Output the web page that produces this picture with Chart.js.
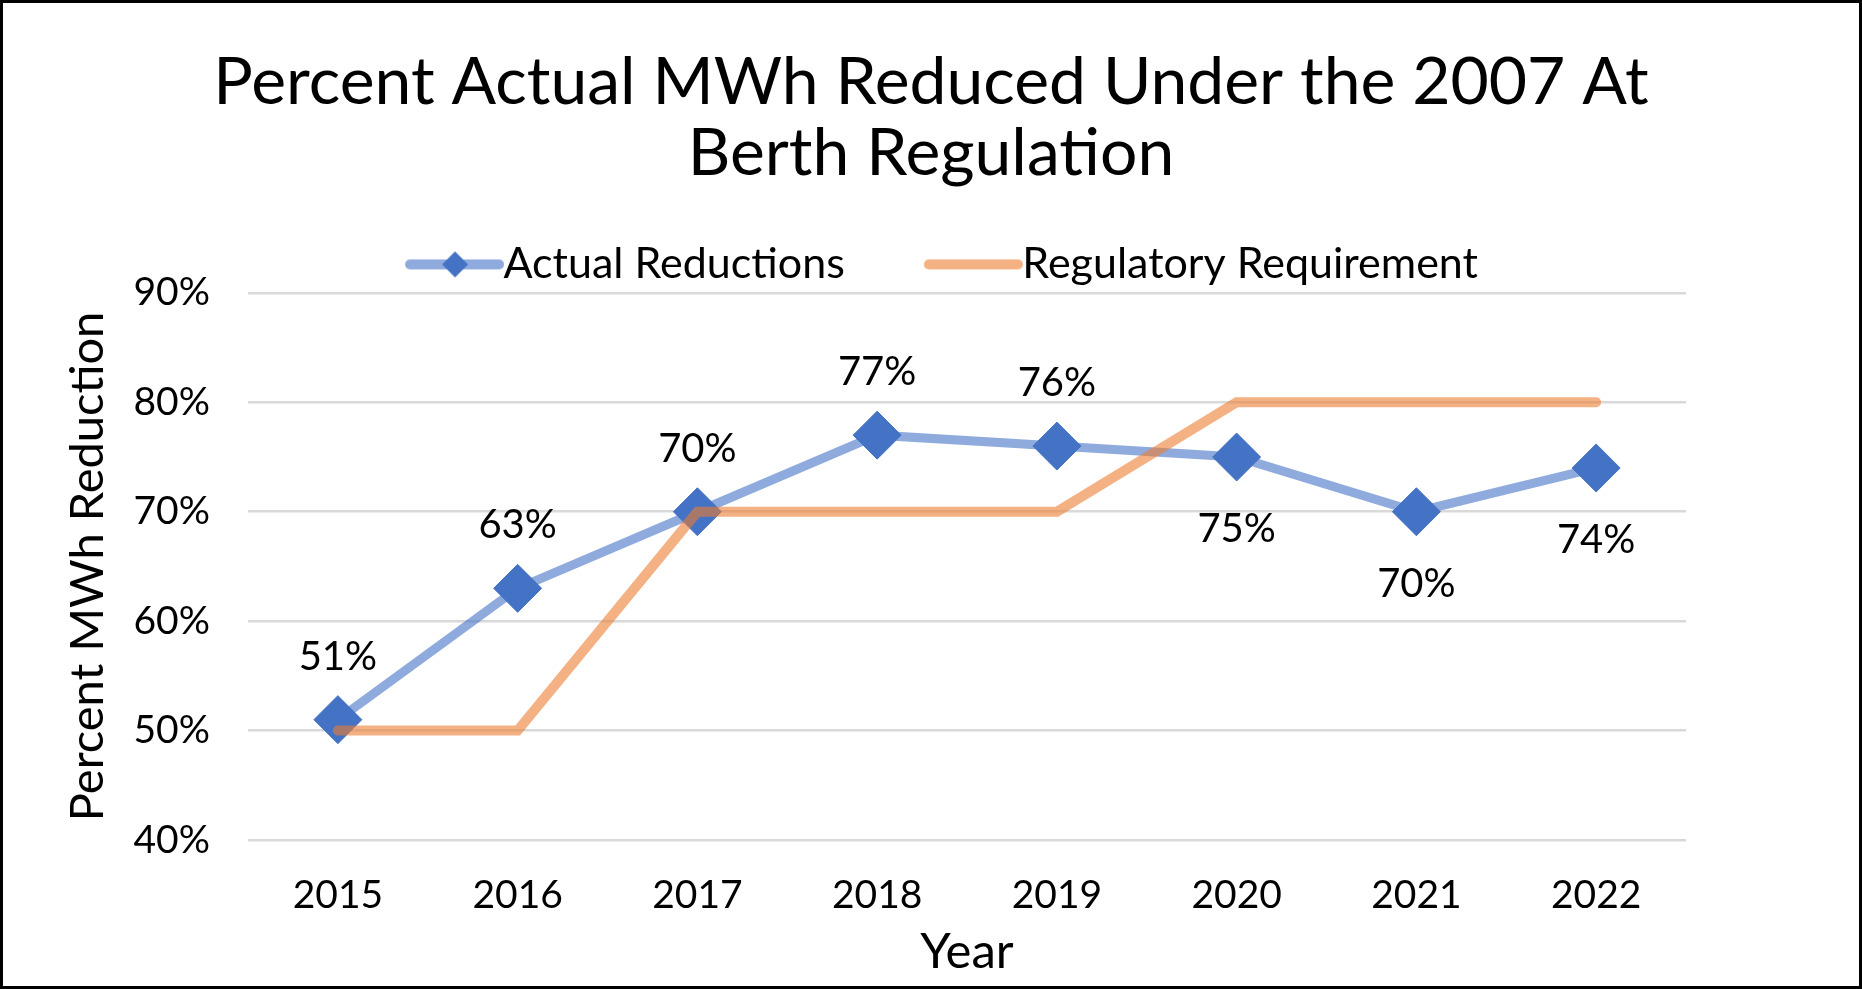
<!DOCTYPE html>
<html>
<head>
<meta charset="utf-8">
<script src="https://cdn.jsdelivr.net/npm/chart.js@4.4.1/dist/chart.umd.min.js"></script>
<style>
  body { margin: 0; background: #fff; }
  .frame { width: 1862px; height: 989px; box-sizing: border-box; border: 3px solid #000; }
  canvas { display: block; }
</style>
</head>
<body>
<div class="frame"><canvas id="chart" width="1856" height="983"></canvas></div>
<script>
const years = ['2015', '2016', '2017', '2018', '2019', '2020', '2021', '2022']
const actual = [51, 63, 70, 77, 76, 75, 70, 74]
const requirement = [50, 50, 70, 70, 70, 80, 80, 80]
const labelSide = ['above', 'above', 'above', 'above', 'above', 'below', 'below', 'below']

const FONT = 'Lato'
const blue = '#4472C4'
const blueLine = 'rgba(68, 114, 196, 0.6)'
const orangeLine = 'rgba(237, 125, 49, 0.6)'

// legend swatches: line (+ diamond) drawn into a small canvas
function swatch(color, marker) {
    const c = document.createElement('canvas')
    c.width = 142
    c.height = 30
    const g = c.getContext('2d')
    g.strokeStyle = color
    g.lineWidth = 10
    g.lineCap = 'round'
    g.beginPath()
    g.moveTo(48, 15)
    g.lineTo(137, 15)
    g.stroke()
    if (marker) {
        g.fillStyle = blue
        g.beginPath()
        g.moveTo(93, 2)
        g.lineTo(106, 15)
        g.lineTo(93, 28)
        g.lineTo(80, 15)
        g.closePath()
        g.fill()
    }
    return c
}

const valueLabels = {
    id: 'valueLabels',
    afterDatasetsDraw(chart) {
        const meta = chart.getDatasetMeta(0)
        const ctx = chart.ctx
        ctx.save()
        ctx.font = '40px ' + FONT
        ctx.fillStyle = '#000'
        ctx.textAlign = 'center'
        ctx.textBaseline = 'middle'
        meta.data.forEach((pt, i) => {
            const dy = labelSide[i] === 'below' ? 72 : -63
            ctx.fillText(actual[i] + '%', pt.x, pt.y + dy)
        })
        ctx.restore()
    }
}

new Chart(document.getElementById('chart'), {
    type: 'line',
    data: {
        labels: years,
        datasets: [{
            label: 'Actual Reductions',
            data: actual,
            borderColor: blueLine,
            borderWidth: 9,
            pointStyle: 'rectRot',
            pointRadius: 24,
            pointHoverRadius: 24,
            pointBackgroundColor: blue,
            pointBorderColor: blue,
            pointBorderWidth: 1,
            order: 2
        }, {
            label: 'Regulatory Requirement',
            data: requirement,
            borderColor: orangeLine,
            borderWidth: 10,
            borderCapStyle: 'round',
            pointRadius: 0,
            pointHoverRadius: 0,
            order: 1
        }]
    },
    options: {
        responsive: false,
        animation: false,
        events: [],
        layout: { padding: 0 },
        plugins: {
            title: {
                display: true,
                text: ['Percent Actual MWh Reduced Under the 2007 At', 'Berth Regulation'],
                color: '#000',
                font: { family: FONT, size: 66, weight: 'normal', lineHeight: 1.075 },
                padding: { top: 44, bottom: -4 }
            },
            legend: {
                maxHeight: 108,
                labels: {
                    color: '#000',
                    font: { family: FONT, size: 43 },
                    usePointStyle: true,
                    pointStyleWidth: 98,
                    padding: 58,
                    generateLabels: () => [
                        { text: 'Actual Reductions', pointStyle: swatch(blueLine, true), fillStyle: blue, strokeStyle: blue, lineWidth: 0, datasetIndex: 0 },
                        { text: 'Regulatory Requirement', pointStyle: swatch(orangeLine, false), fillStyle: orangeLine, strokeStyle: orangeLine, lineWidth: 0, datasetIndex: 1 }
                    ]
                }
            },
            tooltip: { enabled: false }
        },
        scales: {
            x: {
                offset: true,
                grid: { display: false },
                border: { display: false },
                ticks: { color: '#000', font: { family: FONT, size: 39 }, padding: 24 },
                title: {
                    display: true,
                    text: 'Year',
                    color: '#000',
                    font: { family: FONT, size: 49 },
                    padding: { top: 0, bottom: 4 }
                },
                afterFit: s => { s.height = 146 }
            },
            y: {
                min: 40,
                max: 90,
                grid: { color: '#D9D9D9', lineWidth: 2.5, drawTicks: false },
                border: { display: false },
                ticks: {
                    stepSize: 10,
                    color: '#000',
                    font: { family: FONT, size: 39 },
                    padding: 38,
                    callback: v => v + '%'
                },
                title: {
                    display: true,
                    text: 'Percent MWh Reduction',
                    color: '#000',
                    font: { family: FONT, size: 47 },
                    padding: { top: 57, bottom: 0 }
                },
                afterFit: s => { s.width = 245 }
            },
            // empty right-hand scale, only reserves the white margin on the right
            yRight: {
                position: 'right',
                min: 40,
                max: 90,
                grid: { display: false },
                border: { display: false },
                ticks: { display: false },
                afterFit: s => { s.width = 173 }
            }
        }
    },
    plugins: [valueLabels]
})
</script>
</body>
</html>
